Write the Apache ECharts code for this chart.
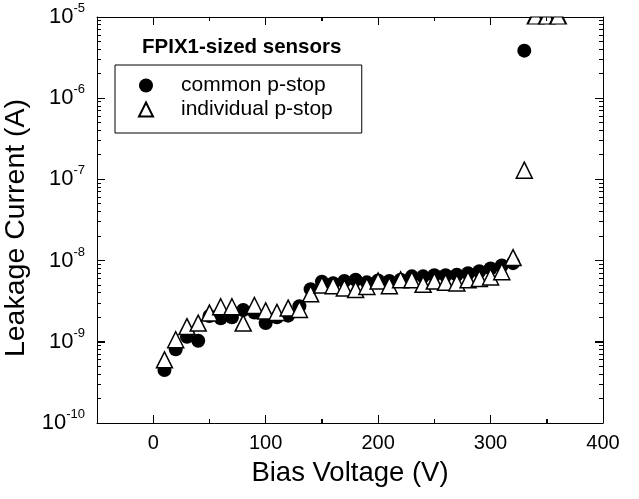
<!DOCTYPE html>
<html><head><meta charset="utf-8">
<script src="https://cdn.jsdelivr.net/npm/echarts@6/dist/echarts.min.js"></script>
<style>html,body{margin:0;padding:0;background:#fff}#c{width:639px;height:499px}</style>
</head><body><div id="c"></div>
<script>
// ---- data ----
const voltageCommon = [10,20,30,40,50,60,70,80,90,100,110,120,130,140,150,160,170,180,190,200,210,220,230,240,250,260,270,280,290,300,310,320,330];
const currentCommon = [4.5e-10,8.1e-10,1.15e-9,1.03e-9,2.08e-9,1.95e-9,2.0e-9,2.46e-9,2.3e-9,1.7e-9,2.0e-9,2.1e-9,2.75e-9,4.45e-9,5.5e-9,5.25e-9,5.6e-9,5.8e-9,5.4e-9,5.7e-9,5.6e-9,5.8e-9,6.4e-9,6.4e-9,6.6e-9,6.6e-9,6.7e-9,7.0e-9,7.4e-9,8.0e-9,8.7e-9,9.3e-9,3.85e-6];
const voltageIndividual = [10,20,30,40,50,60,70,80,90,100,110,120,130,140,150,160,170,180,190,200,210,220,230,240,250,260,270,280,290,300,310,320,330,340,350,360];
const currentIndividual = [6.0e-10,1.06e-9,1.54e-9,1.7e-9,2.26e-9,2.7e-9,2.7e-9,1.7e-9,2.8e-9,2.4e-9,2.3e-9,2.6e-9,2.5e-9,3.9e-9,5.0e-9,4.9e-9,4.6e-9,4.4e-9,4.8e-9,5.6e-9,4.9e-9,5.8e-9,5.8e-9,5.1e-9,5.6e-9,5.4e-9,5.3e-9,5.8e-9,6.0e-9,6.3e-9,7.3e-9,1.09e-8,1.3e-7,1e-5,1e-5,1e-5];
const seriesNames = ['common p-stop','individual p-stop'];
const legendTitle = 'FPIX1-sized sensors';
const xTickLabels = [0,100,200,300,400];
const xMinorTicks = [50,150,250,350];
const yTickLabels = [1e-10,1e-9,1e-8,1e-7,1e-6,1e-5];
const yMinorMultipliers = [2,3,4,5,6,7,8,9];
// ---------------------------------------

const FONT = "'Liberation Sans', Arial, Helvetica, sans-serif";
const black = '#000';
const X_MIN = -50, X_MAX = 400, Y_MIN = 1e-10, Y_MAX = 1e-5;
const GRID = { left: 97, right: 36, top: 17, bottom: 76 };
const MAJOR_LEN = 8, MINOR_LEN = 4;

const yMinorTicks = [];
yTickLabels.slice(0, -1).forEach(d => yMinorMultipliers.forEach(m => yMinorTicks.push(parseFloat((d * m).toPrecision(3)))));

// tick marks (inward, all four sides) placed through the axes' scales
const tickItems = [];
[['bottom', Y_MIN], ['top', Y_MAX]].forEach(([side, yv]) => {
  xTickLabels.forEach(v => tickItems.push({ side, value: [v, yv], len: MAJOR_LEN }));
  xMinorTicks.forEach(v => tickItems.push({ side, value: [v, yv], len: MINOR_LEN }));
});
[['left', X_MIN], ['right', X_MAX]].forEach(([side, xv]) => {
  yTickLabels.forEach(v => tickItems.push({ side, value: [xv, v], len: MAJOR_LEN }));
  yMinorTicks.forEach(v => tickItems.push({ side, value: [xv, v], len: MINOR_LEN }));
});

// points of the individual p-stop set that sit at the top of the scale (clipped in the original)
const indivInside = [], indivClipped = [];
voltageIndividual.forEach((v, i) => (currentIndividual[i] >= Y_MAX ? indivClipped : indivInside).push([v, currentIndividual[i]]));

function xAxisBase(pos, extra) {
  return Object.assign({
    type: 'value', position: pos, min: X_MIN, max: X_MAX, interval: 50,
    axisLine: { show: true, onZero: false, lineStyle: { color: black, width: 1 } },
    axisTick: { show: true, inside: true, length: MINOR_LEN, lineStyle: { color: black, width: 1 } },
    axisLabel: { show: false }, splitLine: { show: false }
  }, extra || {});
}
function yAxisBase(pos, extra) {
  return Object.assign({
    type: 'log', logBase: 10, position: pos, min: Y_MIN, max: Y_MAX,
    axisLine: { show: true, onZero: false, lineStyle: { color: black, width: 1 } },
    axisTick: { show: true, inside: true, length: MAJOR_LEN, lineStyle: { color: black, width: 1 } },
    axisLabel: { show: false }, splitLine: { show: false }, minorTick: { show: false }
  }, extra || {});
}

const chart = echarts.init(document.getElementById('c'));
chart.setOption({
  backgroundColor: '#fff',
  animation: false,
  grid: { left: GRID.left, right: GRID.right, top: GRID.top, bottom: GRID.bottom, outerBoundsMode: 'none' },
  title: {
    text: legendTitle, left: 142, top: 36, padding: 0,
    textStyle: { fontSize: 20.5, fontWeight: 'bold', color: black, fontFamily: FONT, lineHeight: 22 }
  },
  legend: {
    orient: 'vertical', left: 115, top: 65,
    data: [{ name: seriesNames[0], icon: 'circle' }, { name: seriesNames[1], icon: 'triangle' }],
    itemWidth: 14, itemHeight: 14, itemGap: 3,
    padding: [10, 29, 13, 23],
    borderColor: black, borderWidth: 1,
    selectedMode: false,
    textStyle: { fontSize: 21, color: black, fontFamily: FONT, lineHeight: 20, padding: [0, 0, 0, 23] }
  },
  xAxis: [
    xAxisBase('bottom', {
      axisLabel: { show: true, customValues: xTickLabels, fontSize: 20, color: black, fontFamily: FONT, margin: 10 },
      name: 'Bias Voltage (V)', nameLocation: 'middle', nameGap: 36,
      nameTextStyle: { fontSize: 27.5, color: black, fontFamily: FONT }
    }),
    xAxisBase('top')
  ],
  yAxis: [
    yAxisBase('left', {
      axisLabel: {
        show: true, customValues: yTickLabels, margin: 12, color: black, fontFamily: FONT,
        formatter: v => '{b|10}{s|' + Math.round(Math.log10(v)) + '}',
        rich: {
          b: { fontSize: 22, lineHeight: 30, fontFamily: FONT, color: black },
          s: { fontSize: 13, lineHeight: 13, verticalAlign: 'top', fontFamily: FONT, color: black }
        }
      },
      name: 'Leakage Current (A)', nameLocation: 'middle', nameGap: 59,
      nameTextStyle: { fontSize: 28.5, color: black, fontFamily: FONT, padding: [0, 16, 0, 0] }
    }),
    yAxisBase('right')
  ],
  series: [
    {
      name: 'axis ticks', type: 'custom', xAxisIndex: 0, yAxisIndex: 0, z: 5,
      clip: false, progressive: 0,
      data: tickItems.map(t => t.value),
      renderItem: function (params, api) {
        const t = tickItems[params.dataIndex];
        const c = api.coord([api.value(0), api.value(1)]);
        let shape;
        if (t.side === 'bottom') shape = { x: Math.round(c[0] - 0.5), y: Math.round(c[1]) - t.len, width: 1, height: t.len };
        else if (t.side === 'top') shape = { x: Math.round(c[0] - 0.5), y: Math.round(c[1]), width: 1, height: t.len };
        else if (t.side === 'left') shape = { x: Math.round(c[0]), y: Math.round(c[1] - 0.5), width: t.len, height: 1 };
        else shape = { x: Math.round(c[0]) - t.len, y: Math.round(c[1] - 0.5), width: t.len, height: 1 };
        return { type: 'rect', shape: shape, style: { fill: black } };
      }
    },
    {
      name: seriesNames[0], type: 'scatter', xAxisIndex: 0, yAxisIndex: 0,
      symbol: 'circle', symbolSize: 14,
      itemStyle: { color: black, opacity: 1 },
      emphasis: { disabled: true },
      data: voltageCommon.map((v, i) => [v, currentCommon[i]]),
      z: 2
    },
    {
      name: seriesNames[1], type: 'scatter', xAxisIndex: 0, yAxisIndex: 0,
      symbol: 'triangle', symbolSize: 16,
      itemStyle: { color: '#fff', borderColor: black, borderWidth: 1.5, opacity: 1 },
      emphasis: { disabled: true },
      data: indivInside,
      z: 3
    },
    {
      name: seriesNames[1] + ' (off scale)', type: 'scatter', xAxisIndex: 0, yAxisIndex: 0,
      symbol: 'path://M3.5,0L12.5,0L16,7L0,7Z', symbolSize: [16, 7], symbolOffset: [0, 3.5],
      itemStyle: { color: '#fff', borderColor: black, borderWidth: 1.5, opacity: 1 },
      emphasis: { disabled: true },
      data: indivClipped,
      z: 3
    }
  ]
});
</script>
</body></html>
